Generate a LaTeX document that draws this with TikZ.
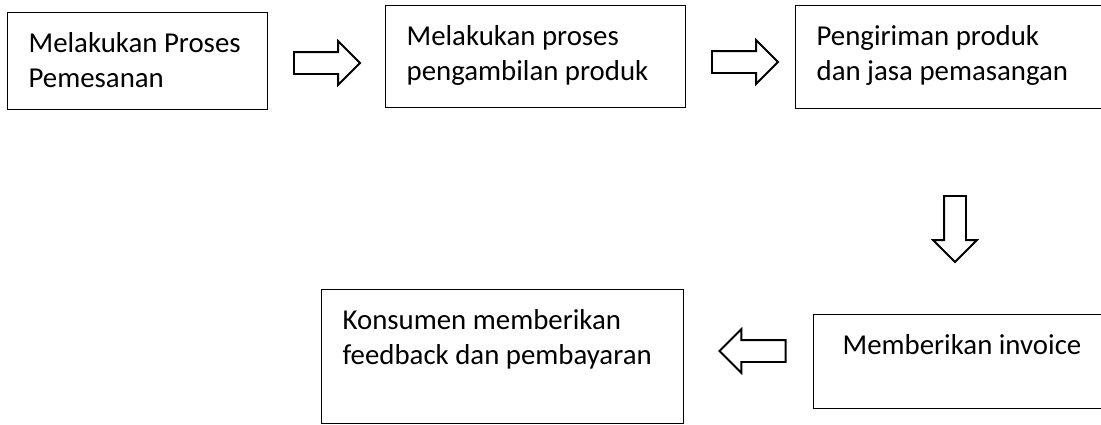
\documentclass[tikz,border=0pt]{standalone}
\usepackage{fontspec}
\setmainfont{Carlito}
\usetikzlibrary{shapes.arrows}
\newcommand{\boxtext}[3]{\parbox[t][#2][t]{#1}{\raggedright\strut #3}}
\tikzset{
    box/.style={draw=black, line width=0.9pt, anchor=north west, inner xsep=0.525cm, inner ysep=0.375cm,
        font=\fontsize{20.5}{25}\selectfont},
    blockarrow/.style={single arrow, draw=black, line width=1.4pt, minimum height=1.65cm,
        inner sep=0.25cm, single arrow head extend=0.27cm}
}
\begin{document}
\begin{tikzpicture}[x=0.025cm, y=-0.025cm]
    \path[use as bounding box] (0,0) rectangle (1101,424);
    \clip (0,0) rectangle (1101,424);

    \node[box] (pesan) at (7,12) {\boxtext{5.45cm}{1.675cm}{Melakukan Proses\\Pemesanan}};
    \node[box] (ambil) at (385,5) {\boxtext{6.45cm}{1.8cm}{Melakukan proses\\pengambilan produk}};
    \node[box] (kirim) at (795,5) {\boxtext{6.875cm}{1.825cm}{Pengiriman produk\\dan jasa pemasangan}};
    \node[box, inner xsep=0.725cm] (invoice) at (813,314) {\boxtext{6.5cm}{1.6cm}{Memberikan invoice}};
    \node[box] (bayar) at (321,289) {\boxtext{8cm}{2.6cm}{Konsumen memberikan\\feedback dan pembayaran}};

    % arrows between the steps
    \node[blockarrow] (a1) at (321.5,63) {};
    \node[blockarrow] (a2) at (739.5,62) {};
    \node[blockarrow, shape border rotate=270] (a3) at (955,223.5) {};
    \node[blockarrow, shape border rotate=180] (a4) at (758,351) {};
\end{tikzpicture}
\end{document}
